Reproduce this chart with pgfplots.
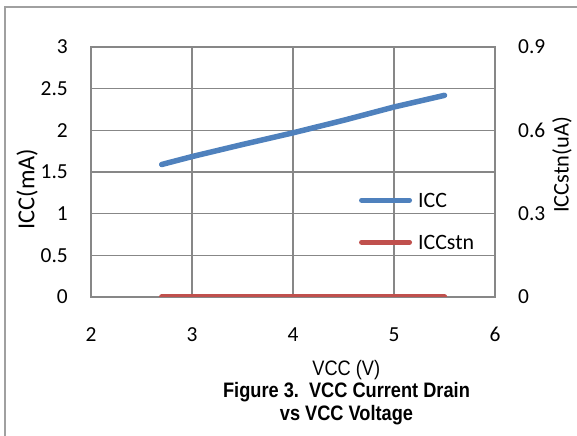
\documentclass[border=0pt]{standalone}
\usepackage{pgfplots}
\pgfplotsset{compat=1.18}
\usepackage{fontspec}
\setmainfont{Carlito}
\newfontfamily\arial{Liberation Sans}
\usepackage{graphicx}
\definecolor{iccblue}{HTML}{4F81BD}
\definecolor{iccred}{HTML}{C0504D}
\definecolor{gridgray}{HTML}{878787}
\definecolor{framegray}{HTML}{A0A0A0}
\begin{document}
\begin{tikzpicture}
\useasboundingbox (-91bp,-139bp) rectangle (486bp,297bp);
\draw[framegray, line width=1.5bp] (-86bp,-150bp) -- (-86bp,290bp) -- (500bp,290bp);
\begin{axis}[
  at={(0bp,0bp)}, anchor=south west,
  scale only axis, width=404bp, height=250bp,
  xmin=2, xmax=6, ymin=0, ymax=3,
  xtick={2,3,4,5,6}, ytick={0,0.5,1,1.5,2,2.5,3},
  grid=major, major grid style={gridgray, line width=1.2bp},
  axis line style={gridgray, line width=1.2bp},
  major tick length=0pt,
  /pgf/number format/assume math mode=true,
  ticklabel style={font=\fontsize{21.5}{25}\selectfont},
  yticklabel style={anchor=east, inner sep=0pt, xshift=-23bp},
  xticklabel style={anchor=base, inner sep=0pt, yshift=-44.5bp},
  xlabel={\scalebox{0.87}[1]{VCC (V)}},
  every axis x label/.style={at={(axis description cs:0.632,-0.312)}, anchor=base, font=\arial\fontsize{21}{25}\selectfont},
  ylabel={ICC(mA)},
  every axis y label/.style={at={(axis description cs:-0.158,0.432)}, anchor=center, rotate=90, font=\fontsize{24.5}{28}\selectfont},
]
\addplot[iccblue, line width=5.5bp, line cap=round, line join=round] coordinates {
(2.7,1.59) (3,1.685) (3.5,1.83) (4,1.97) (4.5,2.12) (5,2.28) (5.5,2.42)
};
\end{axis}
\begin{axis}[
  at={(0bp,0bp)}, anchor=south west,
  scale only axis, width=404bp, height=250bp,
  xmin=2, xmax=6, ymin=0, ymax=0.9,
  axis y line*=right, axis x line=none,
  ytick={0,0.3,0.6,0.9},
  axis line style={gridgray, line width=1.2bp},
  major tick length=0pt,
  /pgf/number format/assume math mode=true,
  ticklabel style={font=\fontsize{21.5}{25}\selectfont},
  yticklabel style={anchor=west, inner sep=0pt, xshift=23bp},
  ylabel={ICCstn(uA)},
  every axis y label/.style={at={(axis description cs:1.166,0.528)}, anchor=center, rotate=90, font=\fontsize{22.5}{26}\selectfont},
  legend image code/.code={\draw[#1, line width=5bp, line cap=round] (2.5bp,0bp) -- (50.5bp,0bp);},
  legend style={at={(axis description cs:0.663,0.416)}, anchor=north west, draw=none, fill=none, inner sep=0pt,
    row sep=28bp, column sep=0bp, font=\fontsize{22}{26}\selectfont,
    nodes={inner sep=0pt, text height=14bp, text depth=0pt}},
  legend cell align=left,
]
\addlegendimage{iccblue}
\addlegendentry{\hspace{6bp}ICC}
\addplot[iccred, line width=5.5bp, line cap=round] coordinates {
(2.7,0) (3,0) (3.5,0) (4,0) (4.5,0) (5,0) (5.5,0)
};
\addlegendentry{\hspace{6bp}ICCstn}
\end{axis}
\node[anchor=base, font=\arial\bfseries\fontsize{21}{25}\selectfont] at (255.5bp,-100bp) {\scalebox{0.87}[1]{Figure 3.\ \ VCC Current Drain}};
\node[anchor=base, font=\arial\bfseries\fontsize{21}{25}\selectfont] at (255.5bp,-123bp) {\scalebox{0.87}[1]{vs VCC Voltage}};
\end{tikzpicture}
\end{document}
